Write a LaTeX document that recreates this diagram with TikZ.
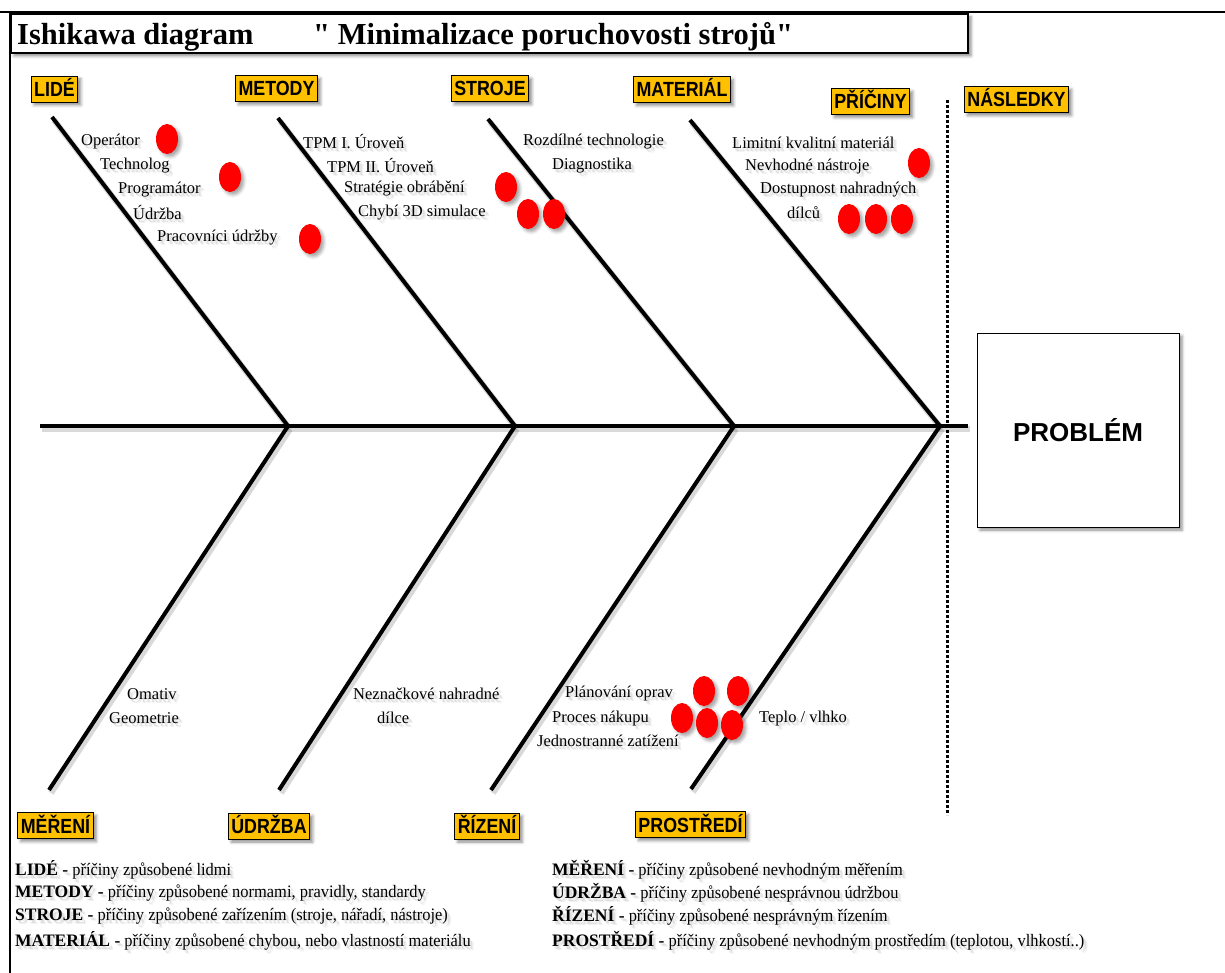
\documentclass[tikz,border=0pt]{standalone}
\usepackage{fontspec}
\setmainfont{Liberation Serif}
\newfontfamily\tagfont{Liberation Sans}[FakeStretch=0.87]
\newfontfamily\headfont{Liberation Sans}
\newfontfamily\legendfont{Liberation Serif}[FakeStretch=0.94]
\usetikzlibrary{shapes.geometric,shadows.blur}
\definecolor{tagfill}{HTML}{FFC000}
\definecolor{dotred}{HTML}{FF0000}

% text with a soft grey drop shadow
\newcommand{\shadowed}[1]{\leavevmode
  \rlap{\hspace*{4pt}\raisebox{-4pt}[0pt][0pt]{\textcolor{black!6}{#1}}}%
  \rlap{\hspace*{1.5pt}\raisebox{-1.5pt}[0pt][0pt]{\textcolor{black!7}{#1}}}%
  \rlap{\hspace*{2.75pt}\raisebox{-2.75pt}[0pt][0pt]{\textcolor{black!12}{#1}}}%
  #1}

\begin{document}
\begin{tikzpicture}[x=1pt,y=-1pt,
  bone/.style={line width=4pt,
    preaction={draw=black, opacity=0.15, line width=6pt,
      transform canvas={shift={(2pt,-3pt)}}}},
  softshadow/.style={blur shadow={shadow xshift=3pt, shadow yshift=-3pt,
      shadow blur radius=3pt, shadow opacity=45}},
  tag/.style={draw=black, line width=0.8pt, fill=tagfill, softshadow,
    font=\tagfont\bfseries\fontsize{20.5}{22}\selectfont,
    inner xsep=3pt, inner ysep=0pt, minimum height=26pt,
    text height=15pt, text depth=0pt},
  cause/.style={anchor=west, inner sep=0pt,
    font=\fontsize{16.5}{19}\selectfont},
  legend/.style={anchor=west, inner sep=0pt,
    font=\legendfont\fontsize{17.5}{20}\selectfont},
  dotmark/.style={ellipse, fill=dotred, inner sep=0pt,
    minimum width=22pt, minimum height=30pt,
    blur shadow={shadow xshift=3pt, shadow yshift=-3pt,
      shadow blur radius=3pt, shadow opacity=35}},
]
\useasboundingbox (0,0) rectangle (1225,973);

% page frame
\draw[line width=2.5pt] (0,12) -- (1225,12);
\draw[line width=2.5pt] (10,12) -- (10,973);

% title bar
\node[draw=black, line width=2pt, fill=white, softshadow,
      minimum width=957pt, minimum height=39pt, anchor=north west, inner sep=0pt]
  (titlebox) at (10,13) {};
\node[anchor=base west, inner sep=0pt, font=\bfseries\fontsize{30.5}{34}\selectfont]
  (title) at (17,45) {Ishikawa diagram};
\node[anchor=base west, inner sep=0pt, font=\bfseries\fontsize{30.5}{34}\selectfont]
  (subtitle) at (313,45) {\textquotedbl{} Minimalizace poruchovosti strojů\textquotedbl};

% spine and junctions
\coordinate (sL) at (40,426);
\coordinate (sR) at (968,426);
\coordinate (j1) at (288,426);
\coordinate (j2) at (515,426);
\coordinate (j3) at (734,426);
\coordinate (j4) at (940,426);
\coordinate (t1) at (52,117);
\coordinate (t2) at (278,118);
\coordinate (t3) at (488,119);
\coordinate (t4) at (690,120);
\coordinate (b1) at (49,790);
\coordinate (b2) at (279,790);
\coordinate (b3) at (491,790);
\coordinate (b4) at (691,789);
\coordinate (dTop) at (947,100);
\coordinate (dBot) at (947,815);

% boundary between causes and effects
\draw[line width=3pt, dash pattern=on 3pt off 2pt] (dTop) -- (dBot);

\draw[bone] (sL) -- (sR);
\draw[bone] (t1) -- (j1);
\draw[bone] (t2) -- (j2);
\draw[bone] (t3) -- (j3);
\draw[bone] (t4) -- (j4);
\draw[bone] (j1) -- (b1);
\draw[bone] (j2) -- (b2);
\draw[bone] (j3) -- (b3);
\draw[bone] (j4) -- (b4);

% problem box
\node[draw=black, line width=0.8pt, fill=white, softshadow,
      minimum width=202pt, minimum height=194pt, inner sep=0pt,
      font=\headfont\bfseries\fontsize{26}{28}\selectfont]
  (problem) at (1078,430) {PROBLÉM};

% category tags
\node[tag] (lide) at (54.5,89) {LIDÉ};
\node[tag] (metody) at (276.5,88.5) {METODY};
\node[tag] (stroje) at (490,88.5) {STROJE};
\node[tag] (material) at (682,89.5) {MATERIÁL};
\node[tag] (priciny) at (870.5,101.5) {PŘÍČINY};
\node[tag] (nasledky) at (1016.5,99.5) {NÁSLEDKY};
\node[tag] (mereni) at (55.5,825.5) {MĚŘENÍ};
\node[tag] (udrzba) at (269,826) {ÚDRŽBA};
\node[tag] (rizeni) at (487,826) {ŘÍZENÍ};
\node[tag] (prostredi) at (690.5,824.5) {PROSTŘEDÍ};

% causes: people
\node[cause] (c11) at (81,142) {\shadowed{Operátor}};
\node[cause] (c12) at (100,166) {\shadowed{Technolog}};
\node[cause] (c13) at (118,190) {\shadowed{Programátor}};
\node[cause] (c14) at (133,213) {\shadowed{Údržba}};
\node[cause] (c15) at (157,238) {\shadowed{Pracovníci údržby}};
% causes: methods
\node[cause] (c21) at (303,142) {\shadowed{TPM I. Úroveň}};
\node[cause] (c22) at (327,166) {\shadowed{TPM II. Úroveň}};
\node[cause] (c23) at (344,189) {\shadowed{Stratégie obrábění}};
\node[cause] (c24) at (358,213) {\shadowed{Chybí 3D simulace}};
% causes: machines
\node[cause] (c31) at (523,142) {\shadowed{Rozdílné technologie}};
\node[cause] (c32) at (552,166) {\shadowed{Diagnostika}};
% causes: material
\node[cause] (c41) at (732,143) {\shadowed{Limitní kvalitní materiál}};
\node[cause] (c42) at (745,167) {\shadowed{Nevhodné nástroje}};
\node[cause] (c43) at (760,190) {\shadowed{Dostupnost nahradných}};
\node[cause] (c44) at (787,213) {\shadowed{dílců}};
% causes: measuring
\node[cause] (c51) at (127,694) {\shadowed{Omativ}};
\node[cause] (c52) at (109,718) {\shadowed{Geometrie}};
% causes: maintenance
\node[cause] (c61) at (353,694) {\shadowed{Neznačkové nahradné}};
\node[cause] (c62) at (377,718) {\shadowed{dílce}};
% causes: control
\node[cause] (c71) at (565,694) {\shadowed{Plánování oprav}};
\node[cause] (c72) at (552,719) {\shadowed{Proces nákupu}};
\node[cause] (c73) at (537,741) {\shadowed{Jednostranné zatížení}};
% causes: environment
\node[cause] (c81) at (759,719) {\shadowed{Teplo / vlhko}};

% priority marks
\node[dotmark] (m1) at (167,139) {};
\node[dotmark] (m2) at (230,177) {};
\node[dotmark] (m3) at (310,239) {};
\node[dotmark] (m4) at (506,187) {};
\node[dotmark] (m5) at (528,214) {};
\node[dotmark] (m6) at (554,214) {};
\node[dotmark] (m7) at (919,163) {};
\node[dotmark] (m8) at (849,219) {};
\node[dotmark] (m9) at (876,219) {};
\node[dotmark] (m10) at (902,219) {};
\node[dotmark] (m11) at (704,691) {};
\node[dotmark] (m12) at (738,691) {};
\node[dotmark] (m13) at (682,718) {};
\node[dotmark] (m14) at (707,723) {};
\node[dotmark] (m15) at (732,725) {};

% legend
\node[legend] (l1) at (15,870) {\shadowed{\textbf{\rmfamily\fontsize{17.5}{20}\selectfont LIDÉ -} příčiny způsobené lidmi}};
\node[legend] (l2) at (15,893) {\shadowed{\textbf{\rmfamily\fontsize{17.5}{20}\selectfont METODY -} příčiny způsobené normami, pravidly, standardy}};
\node[legend] (l3) at (15,916) {\shadowed{\textbf{\rmfamily\fontsize{17.5}{20}\selectfont STROJE -} příčiny způsobené zařízením (stroje, nářadí, nástroje)}};
\node[legend] (l4) at (15,941) {\shadowed{\textbf{\rmfamily\fontsize{17.5}{20}\selectfont MATERIÁL -} příčiny způsobené chybou, nebo vlastností materiálu}};
\node[legend] (l5) at (552,870) {\shadowed{\textbf{\rmfamily\fontsize{17.5}{20}\selectfont MĚŘENÍ -} příčiny způsobené nevhodným měřením}};
\node[legend] (l6) at (552,893) {\shadowed{\textbf{\rmfamily\fontsize{17.5}{20}\selectfont ÚDRŽBA -} příčiny způsobené nesprávnou údržbou}};
\node[legend] (l7) at (552,916) {\shadowed{\textbf{\rmfamily\fontsize{17.5}{20}\selectfont ŘÍZENÍ -} příčiny způsobené nesprávným řízením}};
\node[legend] (l8) at (552,941) {\shadowed{\textbf{\rmfamily\fontsize{17.5}{20}\selectfont PROSTŘEDÍ -} příčiny způsobené nevhodným prostředím (teplotou, vlhkostí..)}};
\end{tikzpicture}
\end{document}
